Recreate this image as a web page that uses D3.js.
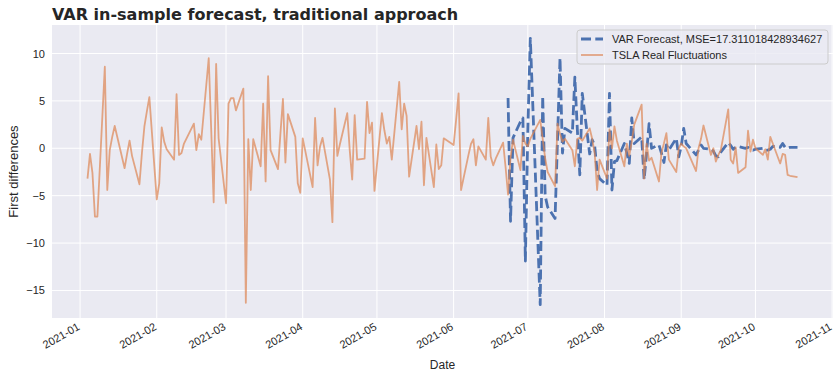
<!DOCTYPE html>
<html><head><meta charset="utf-8">
<script src="https://cdn.jsdelivr.net/npm/d3@7"></script>
<style>body{margin:0;background:#fff}svg{display:block}</style>
</head><body>
<svg id="chart" width="839" height="378"></svg>
<script>
// ---- chart text ----
const titleText = "VAR in-sample forecast, traditional approach";
const yLabelText = "First differences";
const xLabelText = "Date";
const legendLabels = ["VAR Forecast, MSE=17.311018428934627", "TSLA Real Fluctuations"];
const yTickValues = [-15, -10, -5, 0, 5, 10];
const xTickLabels = ["2021-01","2021-02","2021-03","2021-04","2021-05","2021-06","2021-07","2021-08","2021-09","2021-10","2021-11"];
const year = "2021";

// ---- series: [month-day, value] ----
const tslaReal = [
["01-04",-3.2],["01-05",-0.6],["01-06",-2.6],["01-07",-7.2],["01-08",-7.2],
["01-11",8.6],["01-12",-4.4],["01-13",-0.2],["01-14",1.2],["01-15",2.35],
["01-19",-2.1],["01-20",-0.6],["01-21",0.8],["01-22",-0.8],
["01-25",-3.8],["01-26",-0.5],["01-27",2.3],["01-28",3.9],["01-29",5.4],
["02-01",-5.4],["02-02",-3.7],["02-03",2.2],["02-04",0.7],["02-05",-0.1],
["02-08",-1.2],["02-09",5.7],["02-10",-0.7],["02-11",-0.5],["02-12",0.5],
["02-16",2.6],["02-17",-0.2],["02-18",1.5],["02-19",0.9],
["02-22",9.5],["02-23",2.0],["02-24",-5.7],["02-25",8.9],["02-26",1.05],
["03-01",-5.8],["03-02",4.7],["03-03",5.3],["03-04",5.3],["03-05",4.0],
["03-08",6.3],["03-09",-16.3],["03-10",0.95],["03-11",-4.4],["03-12",0.95],
["03-15",-1.9],["03-16",4.7],["03-17",-3.5],["03-18",7.6],["03-19",-0.2],
["03-22",-2.2],["03-23",1.6],["03-24",5.2],["03-25",-1.5],["03-26",3.6],
["03-29",1.2],["03-30",-3.7],["03-31",-4.7],["04-01",1.05],
["04-05",-4.1],["04-06",3.2],["04-07",-1.8],["04-08",0.2],["04-09",1.1],
["04-12",-3.3],["04-13",-7.8],["04-14",4.2],["04-15",-0.8],["04-16",0.4],
["04-19",3.7],["04-20",-0.2],["04-21",-3.3],["04-22",3.5],["04-23",-1.2],
["04-26",-1.1],["04-27",4.9],["04-28",1.6],["04-29",2.7],["04-30",-4.5],
["05-03",3.7],["05-04",1.9],["05-05",0.5],["05-06",1.2],["05-07",-1.2],
["05-10",7.0],["05-11",2.0],["05-12",4.7],["05-13",3.4],["05-14",-3.0],
["05-17",2.35],["05-18",-0.1],["05-19",2.8],["05-20",-3.9],["05-21",1.1],
["05-24",-4.1],["05-25",0.4],["05-26",-2.2],["05-27",-1.8],["05-28",1.05],
["06-01",0.35],["06-02",3.0],["06-03",5.8],["06-04",-4.4],
["06-07",-0.7],["06-08",0.45],["06-09",0.95],["06-10",-1.8],["06-11",0.2],
["06-14",-1.2],["06-15",3.2],["06-16",-0.9],["06-17",-1.8],["06-18",-1.1],
["06-21",0.6],["06-22",-2.0],["06-23",-4.9],["06-24",-1.0],["06-25",0.9],
["06-28",-2.3],["06-29",1.3],["06-30",0.5],["07-01",0.2],["07-02",1.0],
["07-06",3.0],["07-07",1.0],["07-08",-1.05],["07-09",-2.5],
["07-12",-4.0],["07-13",2.6],["07-14",1.5],["07-15",0.7],["07-16",1.0],
["07-19",-0.2],["07-20",-1.9],["07-21",1.0],["07-22",1.1],["07-23",0.8],
["07-26",2.1],["07-27",1.0],["07-28",-0.5],["07-29",-4.4],["07-30",-1.2],
["08-02",-3.2],["08-03",2.0],["08-04",0.0],["08-05",2.3],["08-06",0.8],
["08-09",-1.9],["08-10",0.5],["08-11",-0.8],["08-12",0.7],["08-13",2.5],
["08-16",4.6],["08-17",-3.2],["08-18",0.5],["08-19",-1.3],["08-20",-1.0],
["08-23",-3.5],["08-24",-0.5],["08-25",0.5],["08-26",1.6],["08-27",-1.2],
["08-30",-2.5],["08-31",0.0],["09-01",0.5],["09-02",0.2],["09-03",0.0],
["09-07",-2.4],["09-08",0.0],["09-09",1.0],["09-10",2.4],
["09-13",-0.7],["09-14",0.0],["09-15",-1.4],["09-16",-0.7],["09-17",-0.2],
["09-20",4.1],["09-21",-1.2],["09-22",-1.6],["09-23",0.1],["09-24",-2.6],
["09-27",-2.0],["09-28",1.85],["09-29",-0.35],["09-30",0.9],["10-01",0.0],
["10-04",-0.7],["10-05",-0.1],["10-06",-1.2],["10-07",1.2],["10-08",0.5],
["10-11",-1.6],["10-12",-0.6],["10-13",-0.7],["10-14",-2.8],["10-15",-2.9],
["10-18",-3.05]
];

const varForecast = [
["06-23",5.3],["06-24",-7.7],["06-25",1.1],
["06-28",2.8],["06-29",3.2],["06-30",-11.9],["07-01",2.0],["07-02",11.6],
["07-06",-16.5],["07-07",5.5],["07-08",-5.0],["07-09",-6.2],
["07-12",-7.4],["07-13",1.0],["07-14",9.5],["07-15",-0.5],["07-16",2.1],
["07-19",1.6],["07-20",7.5],["07-21",2.0],["07-22",-2.8],["07-23",5.8],
["07-26",-0.6],["07-27",0.9],["07-28",0.3],["07-29",-2.4],["07-30",-3.2],
["08-02",-3.9],["08-03",5.8],["08-04",-4.4],["08-05",-1.4],["08-06",-1.3],
["08-09",0.5],["08-10",-0.5],["08-11",-1.6],["08-12",3.2],["08-13",0.5],
["08-16",1.2],["08-17",-3.3],["08-18",-0.5],["08-19",2.6],["08-20",0.0],
["08-23",0.35],["08-24",-0.5],["08-25",-1.5],["08-26",0.35],["08-27",-0.2],
["08-30",1.05],["08-31",-0.9],["09-01",0.2],["09-02",2.1],["09-03",0.5],
["09-07",-0.7],["09-08",-0.2],["09-09",0.35],["09-10",0.0],
["09-13",-0.1],["09-14",-0.3],["09-15",-0.8],["09-16",-0.9],["09-17",-0.4],
["09-20",0.6],["09-21",0.3],["09-22",-0.1],["09-23",0.1],["09-24",0.2],
["09-27",0.0],["09-28",0.1],["09-29",-0.1],["09-30",-0.2],["10-01",-0.1],
["10-04",0.0],["10-05",-0.2],["10-06",-0.2],["10-07",-0.1],["10-08",0.2],
["10-11",0.1],["10-12",0.5],["10-13",0.1],["10-14",0.0],["10-15",0.1],
["10-18",0.1]
];

// ---- drawing ----
const parse = d3.timeParse("%Y-%m-%d");
const toPts = arr => arr.map(([md, v]) => ({date: parse(year + "-" + md), value: v}));
const tsla = toPts(tslaReal), fc = toPts(varForecast);

const W = 839, H = 378;
const M = {left: 52, right: 833, top: 25, bottom: 318};
const svg = d3.select("#chart");
const fontSans = "'Liberation Sans', Arial, sans-serif";
const textCol = "#262626";

// scales with matplotlib-like 5% margins
const allDates = tsla.concat(fc).map(d => d.date);
const [d0, d1] = d3.extent(allDates);
const dpad = (d1 - d0) * 0.05;
const x = d3.scaleTime().domain([new Date(+d0 - dpad), new Date(+d1 + dpad)]).range([M.left, M.right]);
const allVals = tsla.concat(fc).map(d => d.value);
const [v0, v1] = d3.extent(allVals);
const vpad = (v1 - v0) * 0.05;
const y = d3.scaleLinear().domain([v0 - vpad, v1 + vpad]).range([M.bottom, M.top]);

// background
svg.append("rect").attr("width", W).attr("height", H).attr("fill", "#ffffff");
svg.append("rect").attr("x", M.left).attr("y", M.top)
  .attr("width", M.right - M.left).attr("height", M.bottom - M.top).attr("fill", "#EAEAF2");

const xTicks = xTickLabels.map(s => d3.timeParse("%Y-%m")(s));

// grid
const grid = svg.append("g");
grid.selectAll("line.gx").data(xTicks).join("line")
  .attr("x1", d => x(d)).attr("x2", d => x(d)).attr("y1", M.top).attr("y2", M.bottom)
  .attr("stroke", "#fff").attr("stroke-width", 1);
grid.selectAll("line.gy").data(yTickValues).join("line")
  .attr("x1", M.left).attr("x2", M.right).attr("y1", d => y(d)).attr("y2", d => y(d))
  .attr("stroke", "#fff").attr("stroke-width", 1);

// axes (labels only, like seaborn darkgrid)
const yAxis = d3.axisLeft(y).tickValues(yTickValues).tickSize(0).tickPadding(7).tickFormat(d3.format("d"));
const gy = svg.append("g").attr("transform", `translate(${M.left},0)`).call(yAxis);
gy.select(".domain").remove();
gy.selectAll("text").attr("font-family", fontSans).attr("font-size", 11).attr("fill", textCol);

const xAxis = d3.axisBottom(x).tickValues(xTicks).tickSize(0).tickFormat(d3.timeFormat("%Y-%m"));
const gx = svg.append("g").attr("transform", `translate(0,${M.bottom})`).call(xAxis);
gx.select(".domain").remove();
gx.selectAll("text")
  .attr("font-family", fontSans).attr("font-size", 11).attr("fill", textCol)
  .attr("text-anchor", "end").attr("dy", null).attr("y", 0)
  .attr("transform", "translate(-4,4) rotate(-30)")
  .attr("dominant-baseline", "hanging");

// lines
const line = d3.line().x(d => x(d.date)).y(d => y(d.value));
const clip = svg.append("clipPath").attr("id", "clip").append("rect")
  .attr("x", M.left).attr("y", M.top).attr("width", M.right - M.left).attr("height", M.bottom - M.top);
const plot = svg.append("g").attr("clip-path", "url(#clip)");
plot.append("path").datum(fc).attr("d", line)
  .attr("fill", "none").attr("stroke", "#4C72B0").attr("stroke-width", 2.8)
  .attr("stroke-dasharray", "10,4.3").attr("stroke-linejoin", "round");
plot.append("path").datum(tsla).attr("d", line)
  .attr("fill", "none").attr("stroke", "#DD8452").attr("stroke-opacity", 0.7)
  .attr("stroke-width", 1.8).attr("stroke-linejoin", "round");

// title & labels
svg.append("text").attr("x", M.left).attr("y", 20)
  .attr("font-family", "'DejaVu Sans', sans-serif").attr("font-weight", "bold")
  .attr("font-size", 16).attr("fill", textCol).text(titleText);
svg.append("text").attr("transform", `translate(18,${(M.top + M.bottom) / 2}) rotate(-90)`)
  .attr("text-anchor", "middle").attr("font-family", fontSans).attr("font-size", 13)
  .attr("fill", textCol).text(yLabelText);
svg.append("text").attr("x", (M.left + M.right) / 2).attr("y", 369)
  .attr("text-anchor", "middle").attr("font-family", fontSans).attr("font-size", 12)
  .attr("fill", textCol).text(xLabelText);

// legend
const lg = svg.append("g").attr("transform", "translate(577,30)");
lg.append("rect").attr("width", 251).attr("height", 34).attr("rx", 3)
  .attr("fill", "#EAEAF2").attr("fill-opacity", 0.8).attr("stroke", "#cccccc").attr("stroke-width", 1);
const items = [
  {label: legendLabels[0], color: "#4C72B0", dash: "10,4.3", w: 2.8, op: 1},
  {label: legendLabels[1], color: "#DD8452", dash: null, w: 1.8, op: 0.7}
];
items.forEach((it, i) => {
  const cy = 9 + i * 16;
  lg.append("line").attr("x1", 4).attr("x2", 26).attr("y1", cy).attr("y2", cy)
    .attr("stroke", it.color).attr("stroke-width", it.w).attr("stroke-opacity", it.op)
    .attr("stroke-dasharray", it.dash);
  lg.append("text").attr("x", 35).attr("y", cy).attr("dy", "0.35em")
    .attr("font-family", fontSans).attr("font-size", 11).attr("fill", textCol).text(it.label);
});
</script>
</body></html>
